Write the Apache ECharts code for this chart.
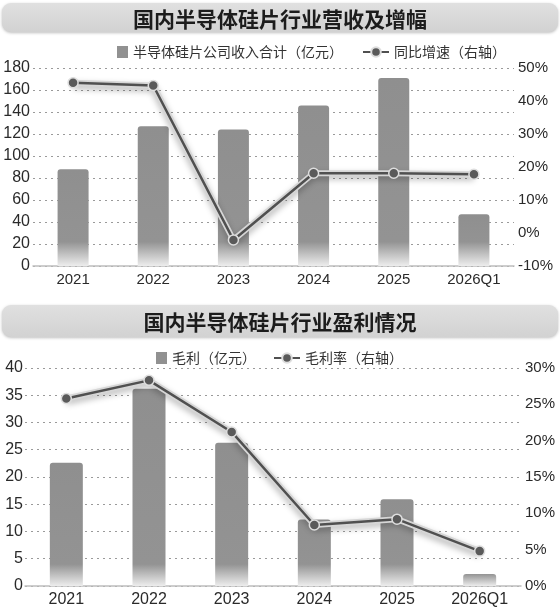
<!DOCTYPE html>
<html>
<head>
<meta charset="utf-8">
<script src="https://cdn.jsdelivr.net/npm/echarts@6/dist/echarts.min.js"></script>
<style>
html,body{margin:0;padding:0;background:#fff;}
#c1{position:absolute;left:0;top:0;width:560px;height:300px;}
#c2{position:absolute;left:0;top:300px;width:560px;height:308px;}
</style>
</head>
<body>
<div id="c1"></div>
<div id="c2"></div>
<script>
// ---- data ----
const years = ['2021', '2022', '2023', '2024', '2025', '2026Q1'];
const revenue = [88, 127, 124, 146, 171, 47];            // 亿元
const revenueGrowth = [45.5, 44.7, -2.1, 18.1, 18.1, 17.8]; // %
const grossProfit = [22.6, 36.2, 26.3, 12.2, 15.9, 2.2];  // 亿元
const grossMargin = [25.8, 28.3, 21.2, 8.4, 9.2, 4.8];    // %

const title1 = '国内半导体硅片行业营收及增幅';
const title2 = '国内半导体硅片行业盈利情况';
const barName1 = '半导体硅片公司收入合计（亿元）';
const lineName1 = '同比增速（右轴）';
const barName2 = '毛利（亿元）';
const lineName2 = '毛利率（右轴）';

const FONT = '"Liberation Sans", "Noto Sans CJK SC", sans-serif';
const CJK = '"Noto Sans CJK SC", sans-serif';

function barData(vals, fade) {
  return vals.map(v => ({
    value: v,
    itemStyle: {
      color: new echarts.graphic.LinearGradient(0, 0, 0, 1, [
        { offset: 0, color: '#8f8f8f' },
        { offset: Math.max(0, 1 - fade / v), color: '#939393' },
        { offset: 1, color: '#ededed' }
      ])
    }
  }));
}

function build(cfg) {
  return {
    backgroundColor: '#fff',
    animation: false,
    graphic: [{
      type: 'rect', z: 0,
      shape: { x: 2, y: cfg.boxY, width: 556, height: cfg.boxH, r: 9 },
      style: {
        fill: new echarts.graphic.LinearGradient(0, 0, 0, 1, [
          { offset: 0, color: '#e0e0e0' }, { offset: 1, color: '#d2d2d2' }
        ]),
        shadowBlur: 3, shadowColor: 'rgba(0,0,0,0.25)', shadowOffsetY: 1
      }
    }],
    title: {
      text: cfg.title, left: 'center', top: cfg.titleTop,
      textStyle: { fontFamily: CJK, fontSize: 21, fontWeight: 'bold', color: '#1c1c1c' }
    },
    legend: [{
      data: [{ name: cfg.barName, icon: 'rect' }],
      left: cfg.leg1X, top: cfg.legY, itemWidth: cfg.legIconW, itemHeight: 12,
      textStyle: { fontFamily: CJK, fontSize: 14, color: '#333' }
    }, {
      data: [{ name: cfg.lineName }],
      left: cfg.leg2X, top: cfg.legY, itemWidth: 26, itemHeight: 12,
      textStyle: { fontFamily: CJK, fontSize: 14, color: '#333' }
    }],
    grid: { left: cfg.gridL, right: cfg.gridR, top: cfg.gridT, height: cfg.gridH },
    xAxis: {
      type: 'category', data: years,
      axisLine: { lineStyle: { color: '#bdbdbd', width: 1.5 } },
      axisTick: { show: false },
      axisLabel: { fontFamily: FONT, fontSize: cfg.xFont, color: '#2a2a2a', margin: 6 }
    },
    yAxis: [{
      type: 'value', min: cfg.lMin, max: cfg.lMax, interval: cfg.lInt,
      axisLine: { show: false }, axisTick: { show: false },
      axisLabel: { fontFamily: FONT, fontSize: 16, color: '#2a2a2a', margin: cfg.lMargin },
      splitLine: { lineStyle: { color: '#9a9a9a', type: [2, 4], width: 1 } }
    }, {
      type: 'value', min: cfg.rMin, max: cfg.rMax, interval: cfg.rInt,
      axisLine: { show: false }, axisTick: { show: false },
      axisLabel: { fontFamily: FONT, fontSize: 15, color: '#2a2a2a', margin: 4, formatter: '{value}%' },
      splitLine: { show: false }
    }],
    series: [{
      name: cfg.barName, type: 'bar', barWidth: cfg.barW,
      data: barData(cfg.bars, cfg.fade),
      itemStyle: { color: '#919191', borderRadius: [3, 3, 0, 0] },
      z: 2
    }, {
      name: '_halo', type: 'line', yAxisIndex: 1, data: cfg.line,
      symbol: 'none', silent: true,
      lineStyle: { color: '#d6d6d6', width: 6, shadowColor: 'rgba(0,0,0,0.28)', shadowBlur: 6, shadowOffsetY: 3 },
      z: 3
    }, {
      name: cfg.lineName, type: 'line', yAxisIndex: 1, data: cfg.line,
      symbol: 'circle', symbolSize: 10,
      lineStyle: { color: '#505050', width: 2.5 },
      itemStyle: { color: '#5a5a5a', borderColor: '#dedede', borderWidth: 1.5 },
      z: 4
    }]
  };
}

const c1 = echarts.init(document.getElementById('c1'), null, { renderer: 'canvas' });
c1.setOption(build({
  title: title1, titleTop: 4, boxY: 3, boxH: 29,
  barName: barName1, lineName: lineName1,
  leg1X: 112, leg2X: 357, legY: 40, legIconW: 11,
  gridL: 33, gridR: 46, gridT: 68, gridH: 198,
  lMin: 0, lMax: 180, lInt: 20, lMargin: 3,
  rMin: -10, rMax: 50, rInt: 10,
  xFont: 15, barW: 31, bars: revenue, line: revenueGrowth, fade: 22
}));

const c2 = echarts.init(document.getElementById('c2'), null, { renderer: 'canvas' });
c2.setOption(build({
  title: title2, titleTop: 7, boxY: 5, boxH: 32,
  barName: barName2, lineName: lineName2,
  leg1X: 151, leg2X: 268, legY: 46, legIconW: 11,
  gridL: 25, gridR: 39, gridT: 68, gridH: 219,
  lMin: 0, lMax: 40, lInt: 5, lMargin: 2,
  rMin: 0, rMax: 30, rInt: 5,
  xFont: 16, barW: 33, bars: grossProfit, line: grossMargin, fade: 4
}));
</script>
</body>
</html>
